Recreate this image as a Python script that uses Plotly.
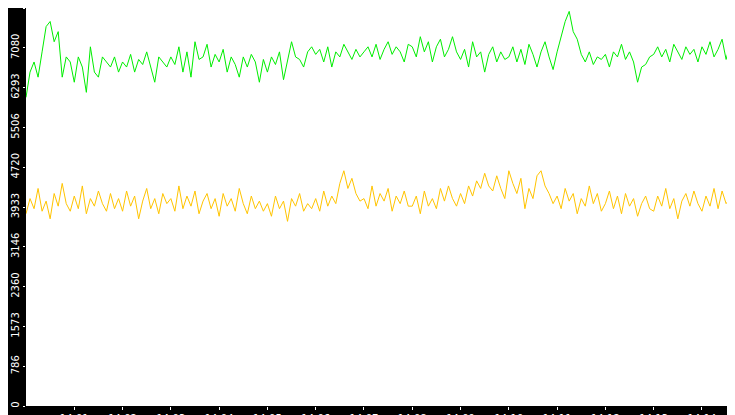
import plotly.graph_objects as go
import pandas as pd

# sampled every 5 seconds from 14:00:00, last point is the drop at 14:14:51
green = [
    6100, 6600, 6800, 6500, 7000, 7500, 7600, 7200, 7400, 6500, 6900, 6800,
    6400, 6900, 6700, 6200, 7100, 6600, 6500, 6900, 6800, 6700, 6900, 6600,
    6800, 6700, 6950, 6600, 6850, 6750, 7000, 6700, 6400, 6900, 6800, 6700,
    6900, 6750, 7100, 6600, 7000, 6500, 7200, 6850, 6900, 7150, 6700, 6950,
    6800, 7050, 6600, 6900, 6750, 6500, 6900, 6700, 6950, 6800, 6400, 6850,
    6600, 6900, 6750, 7000, 6450, 6800, 7200, 6900, 6850, 6700, 7000, 7100,
    6950, 7050, 6800, 7100, 6700, 7000, 6900, 7150, 7000, 6850, 7050, 6900,
    7000, 7100, 6900, 7150, 6850, 7050, 7200, 6950, 7100, 7000, 6800, 7150,
    7100, 6900, 7300, 7000, 7200, 6800, 7100, 7250, 6900, 7050, 7300, 7000,
    6850, 7050, 6700, 7200, 6900, 7000, 6600, 6950, 7100, 6800, 7000, 6850,
    6900, 7100, 6800, 7050, 6750, 7150, 6950, 6700, 7000, 7200, 6900, 6650,
    7000, 7300, 7600, 7800, 7400, 7250, 6950, 6800, 7000, 6750, 6900, 6850,
    6950, 6700, 7000, 6900, 7150, 6850, 7000, 6800, 6400, 6700, 6750, 6900,
    6950, 7100, 6900, 7050, 6800, 7150, 7000, 6850, 7100, 6950, 7050, 6800,
    7100, 6950, 7200, 6900, 7050, 7250, 6850, 7150, 7000, 7350, 7200,
    1950,
]
yellow = [
    3800, 4100, 3900, 4300, 3850, 4050, 3700, 4200, 3950, 4400, 4000, 3850,
    4150, 3900, 4350, 3800, 4100, 3950, 4250, 4000, 3850, 4200, 3900, 4100,
    3850, 4250, 3950, 4150, 3700, 4050, 4300, 3900, 4100, 3800, 4200, 4000,
    4100, 3850, 4350, 3900, 4150, 3950, 4250, 3800, 4050, 4200, 3900, 4100,
    3750, 4200, 3950, 4100, 3850, 4300, 4000, 3800, 4150, 3900, 4050, 3850,
    4000, 3750, 4150, 3900, 4050, 3650, 4100, 3950, 4200, 3850, 4000, 3900,
    4100, 3850, 4250, 3950, 4150, 4000, 4400, 4650, 4300, 4500, 4200, 4050,
    4100, 3900, 4350, 3950, 4200, 4050, 4300, 3850, 4150, 4000, 4250, 3950,
    3950, 4150, 3800, 4250, 3950, 4100, 3900, 4300, 4050, 4350, 4100, 3950,
    4200, 4000, 4350, 4150, 4450, 4300, 4600, 4350, 4250, 4550, 4300, 4100,
    4650, 4400, 4200, 4500, 3900, 4300, 4100, 4550, 4650, 4350, 4200, 4000,
    4150, 3900, 4300, 4050, 4200, 3800, 4100, 3950, 4350, 4000, 4200, 3850,
    4000, 4250, 3900, 4150, 3800, 4200, 3950, 4100, 3750, 4000, 4150, 3900,
    3850, 4150, 3950, 4300, 3900, 4100, 3700, 4050, 4200, 3950, 4250, 4000,
    3850, 4150, 3950, 4300, 3900, 4250, 4000, 4100, 3850, 4200, 4350,
    0,
]
y_ticks = [0, 786, 1573, 2360, 3146, 3933, 4720, 5506, 6293, 7080, 7867]

times = list(pd.date_range("2024-01-01 14:00:00", periods=len(green) - 1, freq="5s"))
times.append(pd.Timestamp("2024-01-01 14:14:51"))
x_ticks = list(pd.date_range("2024-01-01 14:01:00", "2024-01-01 14:14:00", freq="1min"))

fig = go.Figure()
fig.add_trace(go.Scatter(x=times, y=yellow, mode="lines",
                         line=dict(color="#FFC400", width=1)))
fig.add_trace(go.Scatter(x=times, y=green, mode="lines",
                         line=dict(color="#00EE00", width=1)))

fig.update_layout(
    width=735, height=415,
    paper_bgcolor="black", plot_bgcolor="white",
    margin=dict(l=18, r=0, t=0, b=17, pad=0),
    showlegend=False,
    font=dict(family="DejaVu Sans", size=10, color="white"),
)
fig.update_xaxes(
    range=[times[0], times[-1]], tickvals=x_ticks,
    ticktext=[t.strftime("%H:%M") for t in x_ticks],
    showgrid=False, zeroline=False, ticks="outside", ticklen=3,
    tickcolor="white", automargin=False, tickfont=dict(size=10),
)
fig.update_yaxes(
    range=[0, 7867], tickvals=y_ticks, ticktext=[str(v) for v in y_ticks],
    tickangle=-90, showgrid=False, zeroline=False, ticks="outside",
    ticklen=2, tickcolor="white", automargin=False,
)

fig.write_html("out.html")
